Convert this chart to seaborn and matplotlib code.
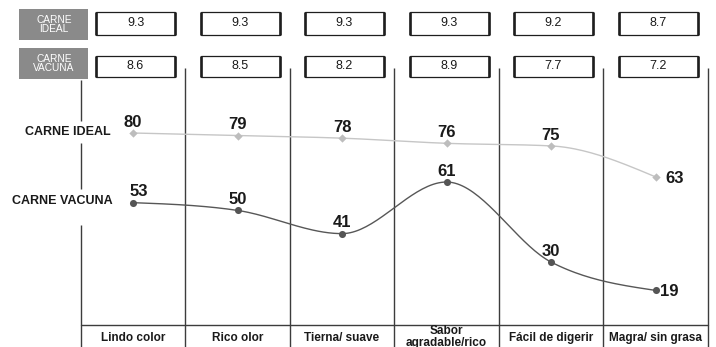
import numpy as np
import pandas as pd
import matplotlib
matplotlib.use("Agg")
import matplotlib.pyplot as plt
from matplotlib.patches import Rectangle
import seaborn as sns

# ---- data -------------------------------------------------------------
categories = ["Lindo color", "Rico olor", "Tierna/ suave",
              "Sabor\nagradable/rico", "Fácil de digerir", "Magra/ sin grasa"]
series_names = ["CARNE IDEAL", "CARNE VACUNA"]
ideal_pct = [80, 79, 78, 76, 75, 63]
vacuna_pct = [53, 50, 41, 61, 30, 19]
ideal_score = [9.3, 9.3, 9.3, 9.3, 9.2, 8.7]
vacuna_score = [8.6, 8.5, 8.2, 8.9, 7.7, 7.2]

# ---- style ------------------------------------------------------------
sns.set_theme(style="white")
plt.rcParams["font.family"] = ["Liberation Sans", "DejaVu Sans"]

W, H = 716, 347
fig = plt.figure(figsize=(W / 100, H / 100), dpi=100)

# decoration layer in pixel coordinates (origin top-left)
deco = fig.add_axes([0, 0, 1, 1], zorder=0)
deco.set_xlim(0, W)
deco.set_ylim(H, 0)
deco.axis("off")

# data layer: categories on x, percentages on y
ax = fig.add_axes([0, 0, 1, 1], zorder=1)
ax.patch.set_alpha(0)
col_w = 104.5
x0_px = 133.0
px_per_unit = 2.58
ax.set_xlim(-x0_px / col_w, (W - x0_px) / col_w)
ax.set_ylim(80 - (H - 133) / px_per_unit, 80 + 133 / px_per_unit)
ax.axis("off")

LINE = "#3c3c3c"
n = len(categories)
centers = [x0_px + col_w * i for i in range(n)]
edges = [x0_px + col_w * (i - 0.5) for i in range(n + 1)]

# column separators
for k, xe in enumerate(edges):
    if k == 0:
        for y_a, y_b in [(80, 121), (143, 189), (225, H)]:
            deco.plot([xe, xe], [y_a, y_b], color=LINE, lw=1.0, solid_capstyle="butt")
    else:
        deco.plot([xe, xe], [68, H], color=LINE, lw=1.0, solid_capstyle="butt")
deco.plot([edges[0], edges[-1]], [325, 325], color=LINE, lw=1.0)

# score table at the top
def gray_tag(y_top, y_bot, text):
    deco.add_patch(Rectangle((19, y_top), 69, y_bot - y_top, facecolor="#8a8a8a",
                             edgecolor="none"))
    deco.text(54, (y_top + y_bot) / 2, text, color="white", fontsize=7.3,
              ha="center", va="center", linespacing=0.95)

def score_box(cx, y_top, y_bot, value):
    left, right = cx - 37, cx + 42
    deco.add_patch(Rectangle((left, y_top), right - left, y_bot - y_top,
                             facecolor="white", edgecolor="#1e1e1e", lw=0.9))
    for xs in (left, right):
        deco.plot([xs, xs], [y_top, y_bot], color="#1e1e1e", lw=1.9,
                  solid_capstyle="butt")
    deco.text((left + right) / 2, (y_top + y_bot) / 2 - 0.5, f"{value:.1f}",
              fontsize=9, ha="center", va="center", color="#1a1a1a")

gray_tag(9, 40, "CARNE\nIDEAL")
gray_tag(48, 79, "CARNE\nVACUNA")
for c, v1, v2 in zip(centers, ideal_score, vacuna_score):
    score_box(c, 12, 35, v1)
    score_box(c, 56, 77, v2)

# series labels on the left
deco.text(111, 132, series_names[0], fontsize=9, fontweight="bold",
          ha="right", va="center", color="#1a1a1a")
deco.text(113, 201, series_names[1], fontsize=9, fontweight="bold",
          ha="right", va="center", color="#1a1a1a")

# category labels at the bottom
for c, lab in zip(centers, categories):
    yc = 337 if "\n" in lab else 338
    deco.text(c, yc, lab, fontsize=8.5, fontweight="bold", ha="center",
              va="center", color="#1a1a1a", linespacing=0.95)


def monotone_curve(xs, ys, steps=40):
    """Monotone cubic (Fritsch-Carlson style) path through the points."""
    xs = np.asarray(xs, float)
    ys = np.asarray(ys, float)
    h = np.diff(xs)
    s = np.diff(ys) / h
    t = np.zeros_like(ys)
    for i in range(1, len(xs) - 1):
        p = (s[i - 1] * h[i] + s[i] * h[i - 1]) / (h[i - 1] + h[i])
        t[i] = (np.sign(s[i - 1]) + np.sign(s[i])) * min(abs(s[i - 1]), abs(s[i]), 0.5 * abs(p))
    t[0] = (3 * s[0] - t[1]) / 2
    t[-1] = (3 * s[-1] - t[-2]) / 2
    u = np.linspace(0, 1, steps)[:, None]
    px, py = [], []
    for i in range(len(xs) - 1):
        d = h[i] / 3
        P = np.array([[xs[i], ys[i]],
                      [xs[i] + d, ys[i] + d * t[i]],
                      [xs[i + 1] - d, ys[i + 1] - d * t[i + 1]],
                      [xs[i + 1], ys[i + 1]]])
        B = ((1 - u) ** 3) * P[0] + 3 * ((1 - u) ** 2) * u * P[1] + \
            3 * (1 - u) * u ** 2 * P[2] + u ** 3 * P[3]
        px.extend(B[:, 0])
        py.extend(B[:, 1])
    return pd.DataFrame({"x": px, "y": py})


xpos = np.arange(n)
styles = [
    (ideal_pct, "#c6c6c6", "#bdbdbd", "D", 18),
    (vacuna_pct, "#575757", "#555555", "o", 26),
]
for vals, lc, mc, mk, ms in styles:
    curve = monotone_curve(xpos, vals)
    sns.lineplot(data=curve, x="x", y="y", sort=False, estimator=None,
                 color=lc, lw=1.0, ax=ax, zorder=2)
    sns.scatterplot(x=xpos, y=vals, marker=mk, s=ms, color=mc,
                    edgecolor=mc, linewidth=0, ax=ax, zorder=3)

# value labels: last point labelled to the right, the others above
for vals, side_gap in [(ideal_pct, 7), (vacuna_pct, 3.5)]:
    for i, v in enumerate(vals):
        if i == n - 1:
            ax.annotate(str(v), (i, v), xytext=(side_gap, -1), textcoords="offset points",
                        ha="left", va="center", fontsize=12, fontweight="bold",
                        color="#1a1a1a", zorder=4)
        else:
            dx = 4 if (vals is vacuna_pct and i == 0) else 0
            ax.annotate(str(v), (i, v), xytext=(dx, 4.6), textcoords="offset points",
                        ha="center", va="baseline", fontsize=12, fontweight="bold",
                        color="#1a1a1a", zorder=4)

fig.savefig("out.png", dpi=100)
